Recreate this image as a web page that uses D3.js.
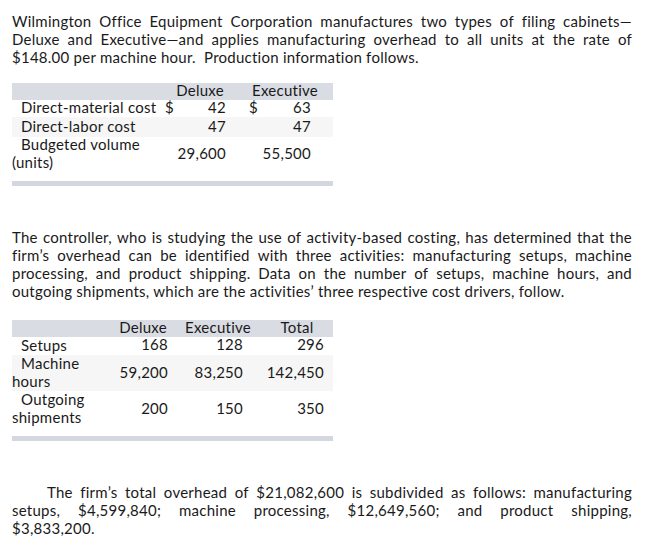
<!DOCTYPE html>
<html>
<head>
<meta charset="utf-8">
<script src="https://cdn.jsdelivr.net/npm/d3@7"></script>
<style>
  html, body { margin: 0; padding: 0; background: #fff; }
  svg text { font-family: Lato, "Open Sans", sans-serif; font-size: 15px; letter-spacing: 0.25px; fill: #1a1a1a; white-space: pre; font-variant-ligatures: none; }
</style>
</head>
<body>
<svg id="chart" width="666" height="549"></svg>
<script>
// ---------- Data ----------
const para1Lines = [
  "Wilmington Office Equipment Corporation manufactures two types of filing cabinets\u2014",
  "Deluxe and Executive\u2014and applies manufacturing overhead to all units at the rate of",
  "$148.00 per machine hour.  Production information follows."
];
const para2Lines = [
  "The controller, who is studying the use of activity-based costing, has determined that the",
  "firm\u2019s overhead can be identified with three activities: manufacturing setups, machine",
  "processing, and product shipping. Data on the number of setups, machine hours, and",
  "outgoing shipments, which are the activities\u2019 three respective cost drivers, follow."
];
const para3Lines = [
  "The firm\u2019s total overhead of $21,082,600 is subdivided as follows: manufacturing",
  "setups, $4,599,840; machine processing, $12,649,560; and product shipping,",
  "$3,833,200."
];

const table1Columns = ["Deluxe", "Executive"];
const table1Rows = [["Direct-material cost"], ["Direct-labor cost"], ["Budgeted volume", "(units)"]];
const table1Deluxe = [42, 47, 29600];
const table1Executive = [63, 47, 55500];
const table1Dollar = [true, false, false];

const table2Columns = ["Deluxe", "Executive", "Total"];
const table2Rows = [["Setups"], ["Machine", "hours"], ["Outgoing", "shipments"]];
const table2Deluxe = [168, 59200, 200];
const table2Executive = [128, 83250, 150];
const table2Total = [296, 142450, 350];

// ---------- Drawing ----------
const svg = d3.select("#chart");
const fmt = d3.format(",");
const LEFT = 12, RIGHT = 632;

function paragraph(lines, baselines, opts) {
  const g = svg.append("g");
  lines.forEach((line, i) => {
    const x0 = (opts.indent && i === 0) ? opts.indent : LEFT;
    const justify = opts.justify[i];
    if (!justify) {
      g.append("text").attr("x", x0).attr("y", baselines[i]).text(line);
      return;
    }
    const words = line.split(/\s+/);
    const nodes = words.map(w => g.append("text").attr("y", baselines[i]).text(w));
    const widths = nodes.map(n => n.node().getComputedTextLength());
    const total = d3.sum(widths);
    const gap = (RIGHT - x0 - total) / (words.length - 1);
    let x = x0;
    nodes.forEach((n, k) => { n.attr("x", x); x += widths[k] + gap; });
  });
}

paragraph(para1Lines, [27, 45, 63], { justify: [true, true, false] });
paragraph(para2Lines, [243, 261, 279, 297], { justify: [true, true, true, false] });
paragraph(para3Lines, [498, 516, 534], { justify: [true, true, false], indent: 47 });

// ---------- Table 1 ----------
{
  const g = svg.append("g");
  const colCenter = d3.scaleOrdinal().domain(table1Columns).range([200, 285]);
  const colRight = d3.scaleOrdinal().domain(table1Columns).range([226, 311]);
  const dollarX = d3.scaleOrdinal().domain(table1Columns).range([165, 249]);
  const rowTop = d3.scaleOrdinal().domain([0, 1, 2]).range([100, 117, 137]);
  const rowBottom = d3.scaleOrdinal().domain([0, 1, 2]).range([117, 137, 178]);

  g.append("rect").attr("x", LEFT).attr("y", 83).attr("width", 321).attr("height", 17).attr("fill", "#d9dce3");
  table1Rows.forEach((r, i) => {
    g.append("rect").attr("x", LEFT).attr("y", rowTop(i)).attr("width", 321)
      .attr("height", rowBottom(i) - rowTop(i)).attr("fill", i % 2 === 1 ? "#f6f6f6" : "#fff");
  });
  g.append("rect").attr("x", LEFT).attr("y", 181).attr("width", 321).attr("height", 5).attr("fill", "#d3d7df");

  g.selectAll("text.h").data(table1Columns).join("text").attr("class", "h")
    .attr("x", d => colCenter(d)).attr("y", 96).attr("text-anchor", "middle").text(d => d);

  table1Rows.forEach((lab, i) => {
    const single = lab.length === 1;
    const base = single ? rowTop(i) + (i === 1 ? 15 : 13) : 150;
    lab.forEach((t, k) => {
      g.append("text").attr("x", k === 0 ? 21 : LEFT).attr("y", base + k * 18).text(t);
    });
    const vBase = single ? base : 159;
    [["Deluxe", table1Deluxe], ["Executive", table1Executive]].forEach(([c, arr]) => {
      g.append("text").attr("x", colRight(c)).attr("y", vBase).attr("text-anchor", "end").text(fmt(arr[i]));
      if (table1Dollar[i]) g.append("text").attr("x", dollarX(c)).attr("y", vBase).text("$");
    });
  });
}

// ---------- Table 2 ----------
{
  const g = svg.append("g");
  const colCenter = d3.scaleOrdinal().domain(table2Columns).range([143, 218, 297]);
  const colRight = d3.scaleOrdinal().domain(table2Columns).range([168, 243, 324]);
  const rowTop = d3.scaleOrdinal().domain([0, 1, 2]).range([337, 355, 391]);
  const rowBottom = d3.scaleOrdinal().domain([0, 1, 2]).range([355, 391, 433]);

  g.append("rect").attr("x", LEFT).attr("y", 320).attr("width", 321).attr("height", 17).attr("fill", "#d9dce3");
  table2Rows.forEach((r, i) => {
    g.append("rect").attr("x", LEFT).attr("y", rowTop(i)).attr("width", 321)
      .attr("height", rowBottom(i) - rowTop(i)).attr("fill", i % 2 === 1 ? "#f6f6f6" : "#fff");
  });
  g.append("rect").attr("x", LEFT).attr("y", 436).attr("width", 321).attr("height", 5).attr("fill", "#d3d7df");

  g.selectAll("text.h").data(table2Columns).join("text").attr("class", "h")
    .attr("x", d => colCenter(d)).attr("y", 333).attr("text-anchor", "middle").text(d => d);

  const labelBase = [351, 369, 405];
  const valueBase = [350, 378, 414];
  table2Rows.forEach((lab, i) => {
    lab.forEach((t, k) => {
      g.append("text").attr("x", k === 0 ? 21 : LEFT).attr("y", labelBase[i] + k * 18).text(t);
    });
    [["Deluxe", table2Deluxe], ["Executive", table2Executive], ["Total", table2Total]].forEach(([c, arr]) => {
      g.append("text").attr("x", colRight(c)).attr("y", valueBase[i]).attr("text-anchor", "end").text(fmt(arr[i]));
    });
  });
}
</script>
</body>
</html>
